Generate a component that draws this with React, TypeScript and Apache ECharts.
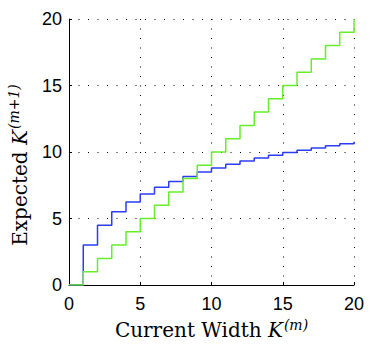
import React, { useEffect, useRef } from "react";
import * as echarts from "echarts";

const widths = [0, 1, 2, 3, 4, 5, 6, 7, 8, 9, 10, 11, 12, 13, 14, 15, 16, 17, 18, 19, 20];
const expectedBlue = [0, 3.0, 4.5, 5.5, 6.25, 6.85, 7.35, 7.78, 8.15, 8.49, 8.79, 9.07, 9.32, 9.55, 9.76, 9.96, 10.14, 10.31, 10.47, 10.62, 10.77];
const expectedGreen = [0, 1, 2, 3, 4, 5, 6, 7, 8, 9, 10, 11, 12, 13, 14, 15, 16, 17, 18, 19, 20];

const serif = "DejaVu Serif, Liberation Serif, serif";
const rich = {
  t: { fontFamily: serif, fontSize: 20, color: "#000" },
  k: { fontFamily: serif, fontSize: 20, fontStyle: "italic", color: "#000" },
  s: { fontFamily: serif, fontSize: 14, fontStyle: "italic", color: "#000", verticalAlign: "top", padding: [0, 0, 11, 1] },
};

export default function App() {
  const ref = useRef<HTMLDivElement>(null);
  useEffect(() => {
    const chart = echarts.init(ref.current!, null, { renderer: "svg" });
    const gridLine = { show: true, lineStyle: { color: "#000", type: [1, 8.5], width: 1 } };
    const axisCommon = {
      type: "value",
      min: 0,
      max: 20,
      interval: 5,
      axisLine: { show: true, onZero: false, lineStyle: { color: "#000", width: 1 } },
      axisTick: { show: true, inside: true, length: 3, lineStyle: { color: "#000" } },
      splitLine: gridLine,
      axisLabel: { color: "#000", fontFamily: "Liberation Sans, Arial, sans-serif", fontSize: 18 },
      nameLocation: "middle",
    };
    chart.setOption({
      animation: false,
      grid: { left: 69, right: 20, top: 19, bottom: 61, containLabel: false, outerBoundsMode: "none" },
      xAxis: {
        ...axisCommon,
        name: "{t|Current Width }{k|K}{s|(m)}",
        nameGap: 32,
        nameTextStyle: { color: "#000", fontFamily: serif, fontSize: 20, rich },
        axisLabel: { ...axisCommon.axisLabel, margin: 10 },
      },
      yAxis: {
        ...axisCommon,
        name: "{t|Expected }{k|K}{s|(m+1)}",
        nameGap: 37,
        nameRotate: 90,
        nameTextStyle: { color: "#000", fontFamily: serif, fontSize: 20, rich, padding: [0, 26, 0, 0] },
        axisLabel: { ...axisCommon.axisLabel, margin: 7 },
      },
      series: [
        {
          type: "line",
          step: "end",
          data: widths.map((w, i) => [w, expectedBlue[i]]),
          showSymbol: false,
          lineStyle: { color: "#2a3cf5", width: 1.5 },
          itemStyle: { color: "#2a3cf5" },
        },
        {
          type: "line",
          step: "end",
          data: widths.map((w, i) => [w, expectedGreen[i]]),
          showSymbol: false,
          lineStyle: { color: "#66ee2a", width: 1.5 },
          itemStyle: { color: "#66ee2a" },
        },
      ],
    });
    return () => chart.dispose();
  }, []);
  return <div ref={ref} style={{ width: 374, height: 346, position: "absolute", left: 0, top: 0 }} />;
}
